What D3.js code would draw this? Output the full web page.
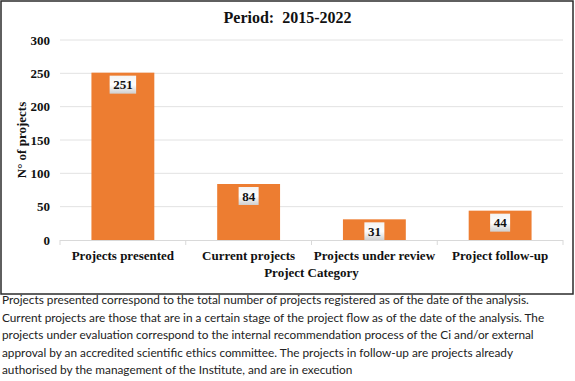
<!DOCTYPE html>
<html><head><meta charset="utf-8">
<script src="https://cdn.jsdelivr.net/npm/d3@7"></script>
<style>
html,body{margin:0;padding:0;background:#fff;}
svg{display:block;}
</style></head>
<body>
<svg id="chart" width="575" height="381"></svg>
<script>
const categories = ["Projects presented", "Current projects", "Projects under review", "Project follow-up"];
const values = [251, 84, 31, 44];
const yTicks = [0, 50, 100, 150, 200, 250, 300];
const title = "Period:  2015-2022";
const xTitle = "Project Category";
const yTitle = "N° of projects";
const captionLines = [
  "Projects presented correspond to the total number of projects registered as of the date of the analysis.",
  "Current projects are those that are in a certain stage of the project flow as of the date of the analysis. The",
  "projects under evaluation correspond to the internal recommendation process of the Ci and/or external",
  "approval by an accredited scientific ethics committee. The projects in follow-up are projects already",
  "authorised by the management of the Institute, and are in execution"
];

const svg = d3.select("#chart");
const serif = "'Liberation Serif','Times New Roman',serif";
const m = {left: 60, right: 563, top: 40, bottom: 240};

const defs = svg.append("defs");
const grad = defs.append("linearGradient").attr("id","lblg").attr("x1","0").attr("y1","0").attr("x2","0").attr("y2","1");
grad.append("stop").attr("offset","0%").attr("stop-color","#f4f4f4");
grad.append("stop").attr("offset","50%").attr("stop-color","#fdfdfd");
grad.append("stop").attr("offset","100%").attr("stop-color","#cfcfcf");

// frame
svg.append("rect").attr("x",1).attr("y",1).attr("width",572).attr("height",293)
  .attr("fill","#fff").attr("stroke","#2b2b2b").attr("stroke-width",1.5);

const x = d3.scaleBand().domain(categories).range([m.left, m.right]).paddingInner(0.5).paddingOuter(0.25);
const y = d3.scaleLinear().domain([0, 300]).range([m.bottom, m.top]);

// gridlines
svg.append("g").selectAll("line").data(yTicks.filter(d=>d>0)).join("line")
  .attr("x1", m.left).attr("x2", m.right)
  .attr("y1", d=>y(d)).attr("y2", d=>y(d))
  .attr("stroke","#e2e2e2").attr("stroke-width",1);

// y tick labels
svg.append("g").selectAll("text").data(yTicks).join("text")
  .attr("x", 50).attr("y", d=>y(d)+4.5)
  .attr("text-anchor","end")
  .attr("font-family", serif).attr("font-weight","bold").attr("font-size",13)
  .attr("fill","#111").text(d=>d);

// bars
svg.append("g").selectAll("rect").data(values).join("rect")
  .attr("x",(d,i)=>x(categories[i])).attr("width",x.bandwidth())
  .attr("y",d=>y(d)).attr("height",d=>y(0)-y(d))
  .attr("fill","#ED7D31");

// x axis line + ticks
const bounds = d3.range(categories.length+1).map(i => m.left + i*(m.right-m.left)/categories.length);
svg.append("line").attr("x1",m.left).attr("x2",m.right).attr("y1",y(0)+0.5).attr("y2",y(0)+0.5)
  .attr("stroke","#d9d9d9").attr("stroke-width",1);
svg.append("g").selectAll("line").data(bounds).join("line")
  .attr("x1",d=>d).attr("x2",d=>d).attr("y1",y(0)).attr("y2",y(0)+5)
  .attr("stroke","#d9d9d9").attr("stroke-width",1);

// x labels
svg.append("g").selectAll("text").data(categories).join("text")
  .attr("x",d=>x(d)+x.bandwidth()/2).attr("y",260)
  .attr("text-anchor","middle")
  .attr("font-family", serif).attr("font-weight","bold").attr("font-size",13)
  .attr("fill","#111").text(d=>d);

// value labels
const lg = svg.append("g").selectAll("g").data(values).join("g")
  .attr("transform",(d,i)=>`translate(${x(categories[i])+x.bandwidth()/2},${y(d)+3})`);
lg.each(function(d){
  const g = d3.select(this);
  const t = g.append("text").attr("x",0).attr("y",13.5).attr("text-anchor","middle")
    .attr("font-family", serif).attr("font-weight","bold").attr("font-size",13)
    .attr("fill","#111").text(d);
  const w = t.node().getComputedTextLength() + 7;
  g.insert("rect","text").attr("x",-w/2).attr("y",0).attr("width",w).attr("height",18)
    .attr("fill","url(#lblg)");
});

// titles
svg.append("text").attr("x",287.5).attr("y",23).attr("text-anchor","middle")
  .attr("font-family", serif).attr("font-weight","bold").attr("font-size",16)
  .attr("fill","#111").attr("style","white-space:pre").text(title);
svg.append("text").attr("x",(m.left+m.right)/2).attr("y",277).attr("text-anchor","middle")
  .attr("font-family", serif).attr("font-weight","bold").attr("font-size",13)
  .attr("fill","#111").text(xTitle);
svg.append("text").attr("transform",`translate(26,${(m.top+m.bottom)/2}) rotate(-90)`)
  .attr("text-anchor","middle")
  .attr("font-family", serif).attr("font-weight","bold").attr("font-size",13)
  .attr("fill","#111").text(yTitle);

// caption
svg.append("g").selectAll("text").data(captionLines).join("text")
  .attr("x",2).attr("y",(d,i)=>304+i*17.5)
  .attr("font-family","Lato, 'Open Sans', sans-serif").attr("font-size",11.8)
  .attr("fill","#222").text(d=>d);
</script>
</body></html>
